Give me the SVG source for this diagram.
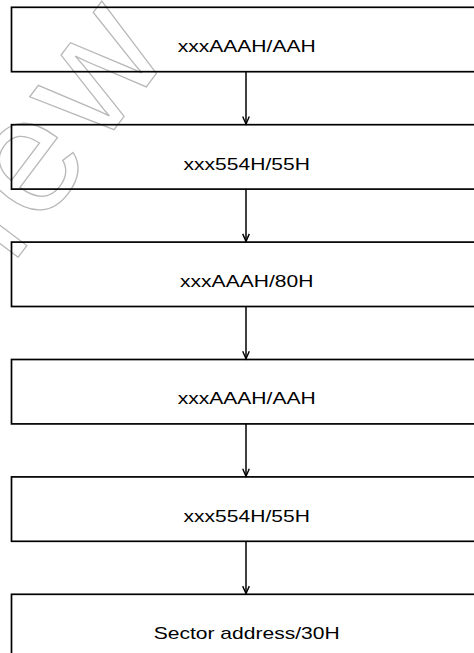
<svg xmlns="http://www.w3.org/2000/svg" width="474" height="653" viewBox="0 0 474 653">
  <style>
    .box { fill: none; stroke: #000; stroke-width: 1.7; }
    .lbl { font-family: "Liberation Sans", Arial, sans-serif; font-size: 17px; fill: #000; text-anchor: middle; }
    .conn { stroke: #000; stroke-width: 1.5; fill: none; }
    .wm { font-family: "Liberation Sans", Arial, sans-serif; font-size: 165px; letter-spacing: 9px; fill: none; stroke: #b8b8b8; stroke-width: 1.3; }
  </style>
  <defs>
    <marker id="ah" markerUnits="userSpaceOnUse" markerWidth="14" markerHeight="14" viewBox="-9 -7 14 14" refX="0" refY="0" orient="auto">
      <path d="M-7.5,-3.3 L0,0 L-7.5,3.3" fill="none" stroke="#000" stroke-width="1.4"/>
    </marker>
  </defs>

  <g id="watermark">
    <text class="wm" transform="translate(11.4,265.9) rotate(-53)">iew</text>
  </g>

  <g id="node1">
    <rect class="box" x="11.5" y="7.3" width="480" height="64.4"/>
    <text class="lbl" x="246.7" y="52.1" textLength="138" lengthAdjust="spacingAndGlyphs">xxxAAAH/AAH</text>
  </g>
  <g id="node2">
    <rect class="box" x="11.5" y="124.7" width="480" height="64.4"/>
    <text class="lbl" x="246.7" y="169.5" textLength="126.3" lengthAdjust="spacingAndGlyphs">xxx554H/55H</text>
  </g>
  <g id="node3">
    <rect class="box" x="11.5" y="242.1" width="480" height="64.4"/>
    <text class="lbl" x="246.7" y="286.9" textLength="133.3" lengthAdjust="spacingAndGlyphs">xxxAAAH/80H</text>
  </g>
  <g id="node4">
    <rect class="box" x="11.5" y="359.5" width="480" height="64.4"/>
    <text class="lbl" x="246.7" y="404.3" textLength="138" lengthAdjust="spacingAndGlyphs">xxxAAAH/AAH</text>
  </g>
  <g id="node5">
    <rect class="box" x="11.5" y="476.9" width="480" height="64.4"/>
    <text class="lbl" x="246.7" y="521.7" textLength="126.3" lengthAdjust="spacingAndGlyphs">xxx554H/55H</text>
  </g>
  <g id="node6">
    <rect class="box" x="11.5" y="594.3" width="480" height="70"/>
    <text class="lbl" x="246.7" y="639.1" textLength="186" lengthAdjust="spacingAndGlyphs">Sector address/30H</text>
  </g>

  <g id="connectors">
    <line class="conn" x1="246" y1="71.7" x2="246" y2="124" marker-end="url(#ah)"/>
    <line class="conn" x1="246" y1="189.1" x2="246" y2="241.4" marker-end="url(#ah)"/>
    <line class="conn" x1="246" y1="306.5" x2="246" y2="358.8" marker-end="url(#ah)"/>
    <line class="conn" x1="246" y1="423.9" x2="246" y2="476.2" marker-end="url(#ah)"/>
    <line class="conn" x1="246" y1="541.3" x2="246" y2="593.6" marker-end="url(#ah)"/>
  </g>
</svg>
